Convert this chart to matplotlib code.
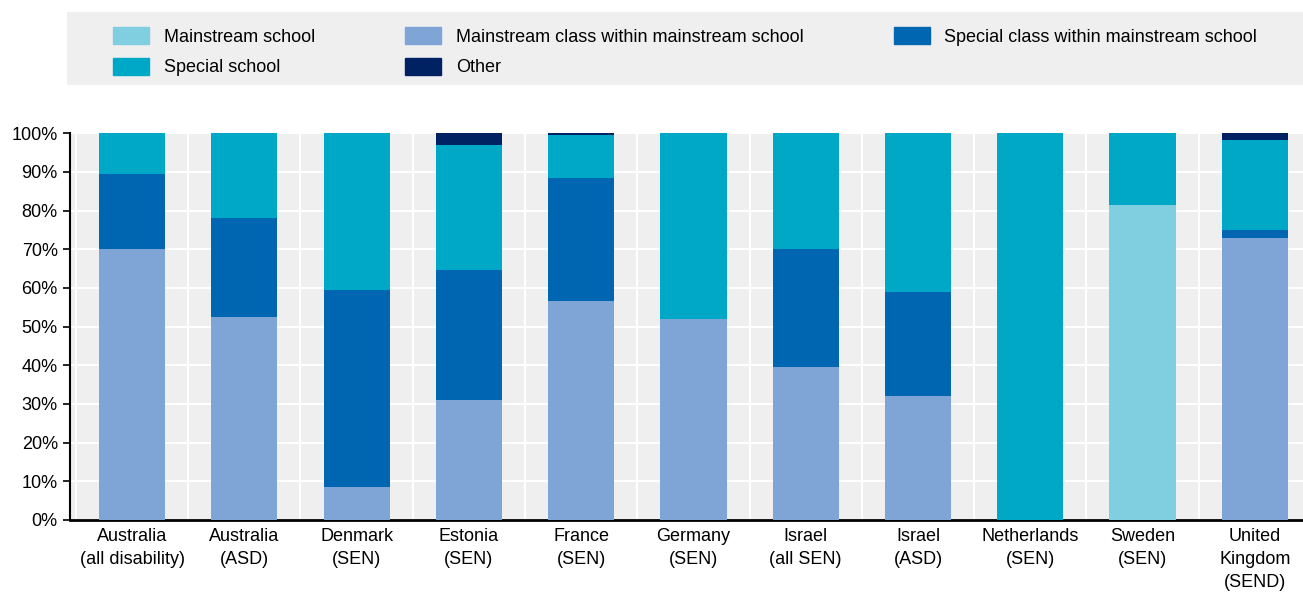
import numpy as np
import matplotlib.pyplot as plt
from matplotlib.patches import Rectangle, Patch

plt.rcParams['font.family'] = ['Liberation Sans Narrow', 'Liberation Sans', 'DejaVu Sans']

labels = ['Australia\n(all disability)', 'Australia\n(ASD)', 'Denmark\n(SEN)', 'Estonia\n(SEN)',
          'France\n(SEN)', 'Germany\n(SEN)', 'Israel\n(all SEN)', 'Israel\n(ASD)',
          'Netherlands\n(SEN)', 'Sweden\n(SEN)', 'United\nKingdom\n(SEND)']

mainstream_school = [0, 0, 0, 0, 0, 0, 0, 0, 0, 81.5, 0]
mainstream_class = [70, 52.5, 8.5, 31, 56.5, 52, 39.5, 32, 0, 0, 73]
special_class = [19.5, 25.5, 51, 33.5, 32, 0, 30.5, 27, 0, 0, 2]
special_school = [10.5, 22, 40.5, 32.5, 11, 48, 30, 41, 100, 18.5, 23.2]
other = [0, 0, 0, 3, 0.5, 0, 0, 0, 0, 0, 1.8]

series = [
    ('Mainstream school', mainstream_school, '#80cfe0'),
    ('Mainstream class within mainstream school', mainstream_class, '#7ea5d6'),
    ('Special class within mainstream school', special_class, '#0066b2'),
    ('Special school', special_school, '#00a8c8'),
    ('Other', other, '#002262'),
]

fig = plt.figure(figsize=(13.03, 5.97), dpi=100)
ax = fig.add_axes([0.054, 0.129, 0.946, 0.648])
ax.set_facecolor('#efefef')

x = np.arange(len(labels))
bottom = np.zeros(len(labels))
for name, vals, col in series:
    vals = np.array(vals)
    ax.bar(x, vals, 0.59, bottom=bottom, color=col, zorder=3)
    bottom += vals

ax.set_xlim(-0.55, 10.43)
ax.set_ylim(0, 100)
ax.set_yticks(np.arange(0, 101, 10))
ax.set_yticklabels([f'{v}%' for v in range(0, 101, 10)], fontsize=13)
ax.set_xticks(x)
ax.set_xticklabels(labels, fontsize=13, linespacing=1.45)
ax.tick_params(axis='x', length=0, pad=6)
ax.tick_params(axis='y', length=5, width=1.2, pad=4, direction='out')

ax.grid(axis='y', color='white', linewidth=1.5, zorder=1)
ax.set_xticks(np.arange(-0.5, 10.5, 1), minor=True)
ax.tick_params(axis='x', which='minor', length=0)
ax.grid(axis='x', which='minor', color='white', linewidth=1.5, zorder=1)

for s in ['top', 'right']:
    ax.spines[s].set_visible(False)
ax.spines['left'].set_linewidth(1.5)
ax.spines['bottom'].set_linewidth(2)

# legend background
fig.patches.append(Rectangle((67 / 1303, 1 - 85 / 597), 1, 73 / 597,
                             transform=fig.transFigure, facecolor='#efefef',
                             edgecolor='none', zorder=0))

handles = [Patch(color=c) for _, _, c in series]
names = [n for n, _, _ in series]
order = [0, 3, 1, 4, 2]
fig.legend([handles[i] for i in order], [names[i] for i in order],
           ncol=3, frameon=False, fontsize=13, loc='upper left',
           bbox_to_anchor=(104 / 1303, 1 - 18 / 597), handlelength=2.0,
           handleheight=1.1, columnspacing=5.0, labelspacing=0.65,
           handletextpad=0.8, borderpad=0)

fig.savefig('out.png', dpi=100)
